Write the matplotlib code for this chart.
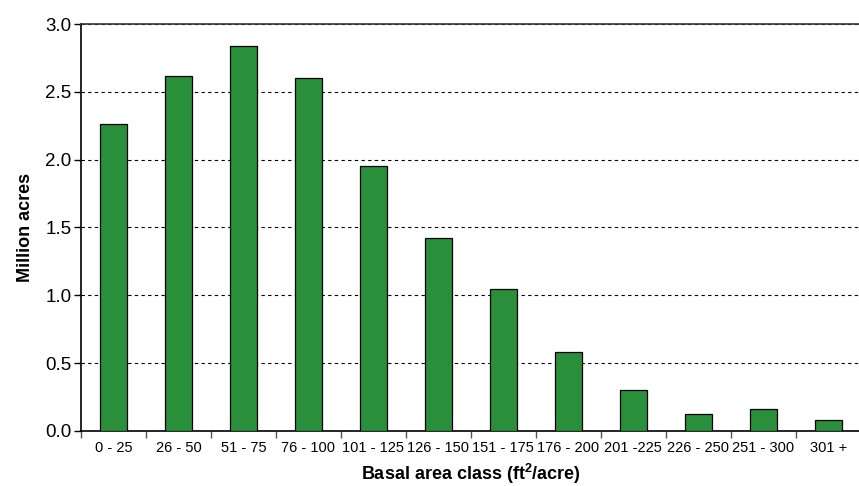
import matplotlib
matplotlib.use("Agg")
import matplotlib.pyplot as plt
import numpy as np

plt.rcParams["font.family"] = ["Liberation Sans", "DejaVu Sans"]
plt.rcParams["mathtext.fontset"] = "custom"
plt.rcParams["mathtext.bf"] = "Liberation Sans:bold"

clases = ["0 - 25", "26 - 50", "51 - 75", "76 - 100", "101 - 125", "126 - 150",
          "151 - 175", "176 - 200", "201 -225", "226 - 250", "251 - 300", "301 +"]
acres = [2.26, 2.62, 2.84, 2.60, 1.95, 1.42, 1.05, 0.585, 0.30, 0.128, 0.165, 0.079]

fig = plt.figure(figsize=(8.59, 4.86), dpi=100)
ax = fig.add_axes([0.0943, 0.1132, 0.9077, 0.8374])

x = np.arange(len(clases))
ax.bar(x, acres, width=0.42, color="#2a8f3a", edgecolor="black", linewidth=0.9, zorder=3)

ax.set_xlim(-0.5, len(clases) - 0.5)
ax.set_ylim(0, 3.0)
yt = np.arange(0, 3.01, 0.5)
ax.set_yticks(yt)
ax.set_yticklabels([f"{v:.1f}" for v in yt], fontsize=13.5)
ax.set_xticks(x)
ax.set_xticklabels(clases, fontsize=10.5)
ax.tick_params(axis="x", length=0, pad=7)
ax.set_xticks(np.arange(-0.5, len(clases), 1), minor=True)
ax.tick_params(axis="x", which="minor", length=5, width=1, color="#555555")
ax.tick_params(axis="y", length=5, width=1, pad=2)

ax.grid(axis="y", linestyle=(0, (3, 3)), color="black", linewidth=0.8, zorder=0)
for s in ["left", "bottom", "top"]:
    ax.spines[s].set_linewidth(1.2)
ax.spines["top"].set_color("#333333")
ax.spines["right"].set_visible(False)

ax.set_ylabel("Million acres", fontsize=13, fontweight="bold", labelpad=8)
ax.set_xlabel("Basal area class (ft$^\\mathbf{2}$/acre)", fontsize=13, fontweight="bold", labelpad=5)

fig.savefig("out.png", dpi=100)
